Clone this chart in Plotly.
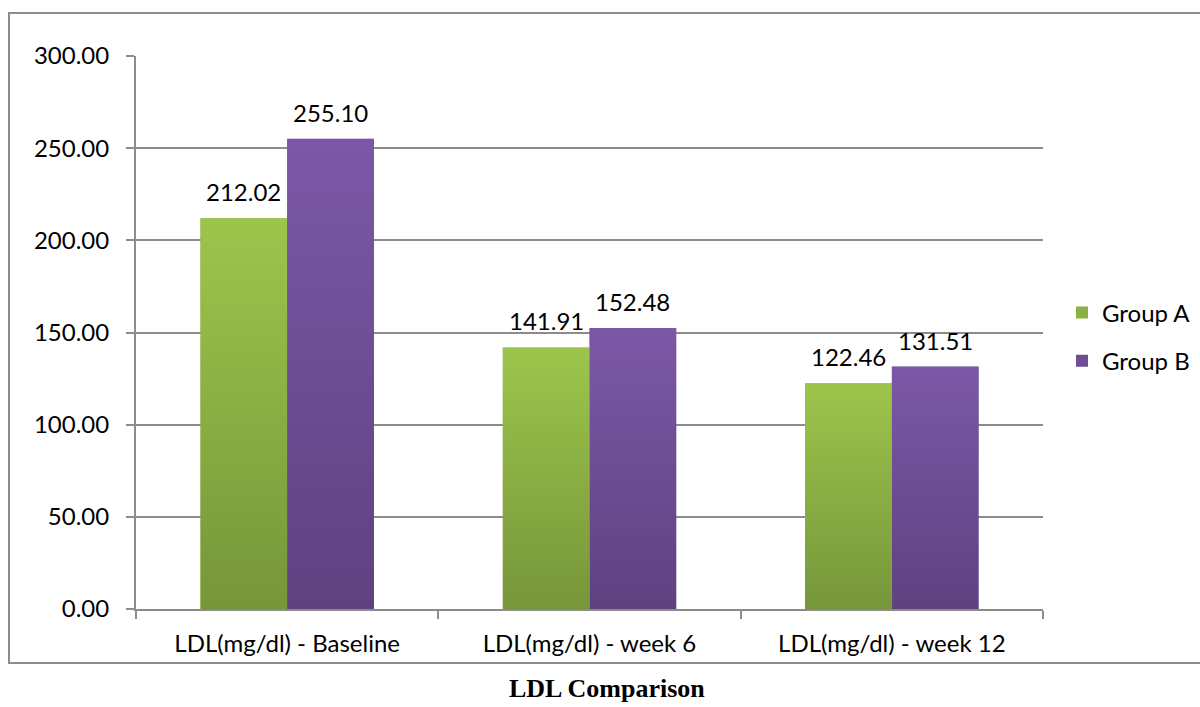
import base64
import plotly.graph_objects as go

categories = ["LDL(mg/dl) - Baseline", "LDL(mg/dl) - week 6", "LDL(mg/dl) - week 12"]
group_a = [212.02, 141.91, 122.46]
group_b = [255.10, 152.48, 131.51]
series_names = ["Group A", "Group B"]
y_ticks = [0, 50, 100, 150, 200, 250, 300]

# gradient stops (top, bottom) for each series
colors_top = ["#9dc54c", "#7b58a7"]
colors_bottom = ["#76963a", "#5e4280"]
colors_mid = ["#8bb043", "#6d4e94"]

BARGAP = 0.426
bar_w = (1 - BARGAP) / 2
FONT = "Lato"
FS = 24


def gradient_uri(top, bottom):
    svg = (
        '<svg xmlns="http://www.w3.org/2000/svg" width="10" height="100" preserveAspectRatio="none">'
        '<defs><linearGradient id="g" x1="0" y1="0" x2="0" y2="1">'
        f'<stop offset="0" stop-color="{top}"/><stop offset="1" stop-color="{bottom}"/>'
        '</linearGradient></defs><rect width="10" height="100" fill="url(#g)"/></svg>'
    )
    return "data:image/svg+xml;base64," + base64.b64encode(svg.encode()).decode()


fig = go.Figure()
series = [group_a, group_b]
for k, (name, vals) in enumerate(zip(series_names, series)):
    fig.add_trace(go.Bar(
        name=name, x=categories, y=vals, legendgroup=name,
        marker=dict(color=colors_mid[k], line=dict(width=0)),
    ))

images = []
annotations = []
for k, vals in enumerate(series):
    src = gradient_uri(colors_top[k], colors_bottom[k])
    offset = (k - 0.5) * bar_w
    for i, v in enumerate(vals):
        images.append(dict(
            source=src, xref="x", yref="y",
            x=i + offset - bar_w / 2, y=0, sizex=bar_w, sizey=v,
            xanchor="left", yanchor="bottom", sizing="stretch", layer="above",
        ))
        annotations.append(dict(
            text=f"{v:.2f}", xref="x", yref="y", x=i + offset, y=v,
            xanchor="center", yanchor="bottom", yshift=10, showarrow=False,
            font=dict(family=FONT, size=FS, color="#000000"),
        ))

L, R, T, B = 136, 157, 56, 98
pw, ph = 1200 - L - R, 707 - T - B

annotations.append(dict(
    text="<b>LDL Comparison</b>", xref="paper", yref="paper",
    x=(607 - L) / pw, y=(609 - 688) / ph, xanchor="center", yanchor="middle",
    showarrow=False, font=dict(family="Liberation Serif", size=26, color="#000000"),
))

fig.update_layout(
    width=1200, height=707,
    margin=dict(l=L, r=R, t=T, b=B, autoexpand=False),
    paper_bgcolor="white", plot_bgcolor="white",
    barmode="group", bargap=BARGAP, bargroupgap=0,
    images=images,
    font=dict(family=FONT, size=FS, color="#000000"),
    showlegend=True,
    legend=dict(xref="container", yref="container",
                x=1062 / 1200, y=1 - 337 / 707, xanchor="left", yanchor="middle",
                font=dict(family=FONT, size=FS, color="#000000"),
                itemwidth=30, tracegroupgap=14, bgcolor="rgba(0,0,0,0)"),
    shapes=[dict(
        type="rect", xref="paper", yref="paper",
        x0=(9 - L) / pw, x1=(1210 - L) / pw,
        y0=(609 - 663) / ph, y1=(609 - 13) / ph,
        line=dict(color="#8c8c8c", width=2), fillcolor="rgba(0,0,0,0)", layer="below",
    )],
    annotations=annotations,
)

fig.update_xaxes(
    showline=True, linecolor="#8c8c8c", linewidth=2,
    ticks="outside", tickson="boundaries", ticklen=8, tickcolor="#8c8c8c", tickwidth=2,
    showgrid=False, tickfont=dict(family=FONT, size=FS), ticklabelstandoff=12,
)
fig.update_yaxes(
    range=[0, 300], tickvals=y_ticks, tickformat=".2f",
    showline=True, linecolor="#8c8c8c", linewidth=2,
    ticks="outside", ticklen=8, tickcolor="#8c8c8c", tickwidth=2,
    showgrid=True, gridcolor="#8c8c8c", gridwidth=1.5, zeroline=False,
    tickfont=dict(family=FONT, size=FS), ticklabelstandoff=12,
)

fig.write_html("out.html")
